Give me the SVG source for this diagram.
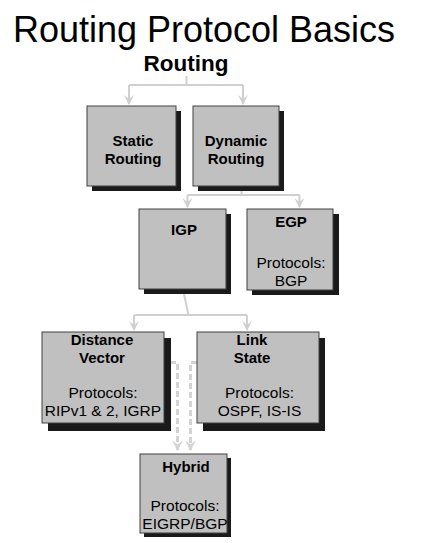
<svg xmlns="http://www.w3.org/2000/svg" width="421" height="543" viewBox="0 0 421 543">
<defs>
<style>
.box{fill:#c0c0c0;stroke:#404040;stroke-width:1}
.sh{fill:#1a1a1a}
.b{font-family:"Liberation Sans",Arial,sans-serif;font-weight:bold;font-size:15px;fill:#000;text-anchor:middle}
.r{font-family:"Liberation Sans",Arial,sans-serif;font-size:15.5px;fill:#000;text-anchor:middle}
.t{font-family:"Liberation Sans",Arial,sans-serif;font-weight:bold;font-size:22.5px;fill:#000;text-anchor:middle}
.c{fill:none;stroke:#d0d0d0;stroke-width:2}
.d{fill:none;stroke:#d4d4d4;stroke-width:3;stroke-dasharray:6 3}
</style>
<marker id="ah" viewBox="0 0 10 10" refX="9" refY="5" markerWidth="5" markerHeight="5" orient="auto" markerUnits="strokeWidth">
<path d="M0,0 L10,5 L0,10 L4,5 z" fill="#d0d0d0"/>
</marker>
<marker id="ahd" viewBox="0 0 10 10" refX="9" refY="5" markerWidth="3.6" markerHeight="3.6" orient="auto" markerUnits="strokeWidth">
<path d="M0,0 L10,5 L0,10 L4,5 z" fill="#d4d4d4"/>
</marker>
</defs>
<rect width="421" height="543" fill="#fff"/>
<text x="204" y="42" font-family="Liberation Sans, Arial, sans-serif" font-size="36" text-anchor="middle" fill="#000">Routing Protocol Basics</text>
<text x="186" y="71" class="t">Routing</text>

<g id="connectors">
<path class="c" d="M186.5,76 V85 M129,85 H243"/>
<path class="c" d="M129,85 V104" marker-end="url(#ah)"/>
<path class="c" d="M243,85 V104" marker-end="url(#ah)"/>
<path class="c" d="M241.5,191 V195 M187.5,195 H299.5"/>
<path class="c" d="M187.5,195 V207" marker-end="url(#ah)"/>
<path class="c" d="M299.5,195 V207" marker-end="url(#ah)"/>
<path class="c" d="M184,294 L188.5,315 M134,315 H247"/>
<path class="c" d="M134,315 V330" marker-end="url(#ah)"/>
<path class="c" d="M247,315 V330" marker-end="url(#ah)"/>
<path class="d" d="M170,362.5 H177.5 V450" marker-end="url(#ahd)"/>
<path class="d" d="M197,362.5 H190.5 V450" marker-end="url(#ahd)"/>
</g>

<g id="static">
<rect class="sh" x="92" y="111" width="89" height="80"/>
<rect class="box" x="87" y="106" width="89" height="80"/>
<text class="b" x="133" y="146">Static</text>
<text class="b" x="133" y="163.5">Routing</text>
</g>
<g id="dynamic">
<rect class="sh" x="198" y="111" width="86" height="80"/>
<rect class="box" x="193" y="106" width="86" height="80"/>
<text class="b" x="236" y="146">Dynamic</text>
<text class="b" x="236" y="163.5">Routing</text>
</g>
<g id="igp">
<rect class="sh" x="144" y="214" width="87" height="80"/>
<rect class="box" x="139" y="209" width="87" height="80"/>
<text class="b" x="184" y="235">IGP</text>
</g>
<g id="egp">
<rect class="sh" x="252" y="214" width="87" height="81"/>
<rect class="box" x="247" y="209" width="86" height="81"/>
<text class="b" x="291" y="227">EGP</text>
<text class="r" x="291" y="267.5">Protocols:</text>
<text class="r" x="291" y="285.5">BGP</text>
</g>
<g id="distance">
<rect class="sh" x="48" y="338" width="123" height="93"/>
<rect class="box" x="42" y="332" width="122" height="91"/>
<text class="b" x="102" y="345">Distance</text>
<text class="b" x="102" y="363">Vector</text>
<text class="r" x="103" y="398">Protocols:</text>
<text class="r" x="103" y="416">RIPv1 &amp; 2, IGRP</text>
</g>
<g id="link">
<rect class="sh" x="203" y="338" width="122" height="93"/>
<rect class="box" x="197" y="332" width="122" height="91"/>
<text class="b" x="252" y="345">Link</text>
<text class="b" x="252" y="363">State</text>
<text class="r" x="259.5" y="398">Protocols:</text>
<text class="r" x="259.5" y="416">OSPF, IS-IS</text>
</g>
<g id="hybrid">
<rect class="sh" x="144" y="458" width="87" height="79"/>
<rect class="box" x="140" y="454" width="87" height="79"/>
<text class="b" x="186" y="472">Hybrid</text>
<text class="r" x="185" y="511">Protocols:</text>
<text class="r" x="185" y="529">EIGRP/BGP</text>
</g>
</svg>
